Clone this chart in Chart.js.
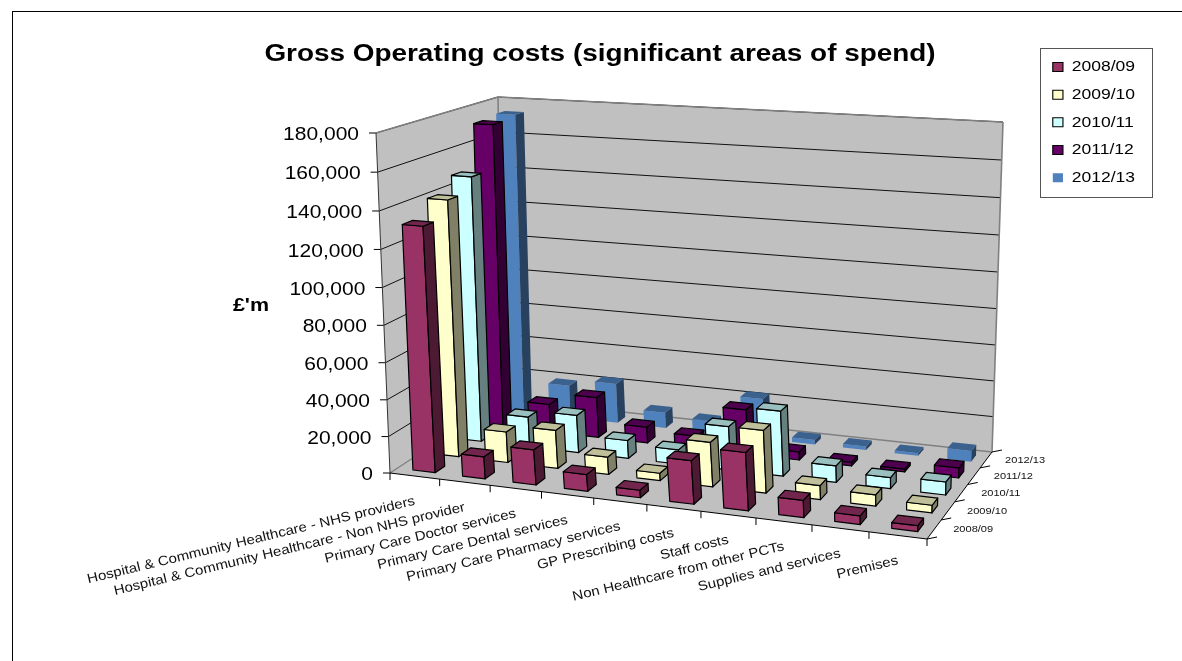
<!DOCTYPE html>
<html>
<head>
<meta charset="utf-8">
<title>Gross Operating costs</title>
<script src="https://cdn.jsdelivr.net/npm/chart.js@4/dist/chart.umd.min.js"></script>
<style>
  html, body { margin: 0; background: #fff; overflow: hidden; }
  #wrap { position: relative; width: 1182px; height: 661px; overflow: hidden; }
  #frame { position: absolute; left: 12px; top: 11px; width: 1170px; height: 660px; border-left: 1px solid #000; border-top: 1px solid #000; }
  canvas { position: absolute; left: 0; top: 0; }
</style>
</head>
<body>
<div id="wrap">
  <div id="frame"></div>
  <canvas id="costsChart" width="1200" height="661" style="width:1200px;height:661px"></canvas>
</div>
<script>
// Spending areas along the front of the chart
const categories = [
    'Hospital & Community Healthcare - NHS providers',
    'Hospital & Community Healthcare - Non NHS provider',
    'Primary Care Doctor services',
    'Primary Care Dental services',
    'Primary Care Pharmacy services',
    'GP Prescribing costs',
    'Staff costs',
    'Non Healthcare from other PCTs',
    'Supplies and services',
    'Premises'
];

// One list per year, front row first
const costs0809 = [132000, 12000, 19000, 9000, 4000, 23000, 30500, 9000, 4500, 3000];
const costs0910 = [140500, 17000, 21000, 9500, 4000, 24000, 33500, 7500, 6000, 4000];
const costs1011 = [148000, 17000, 21000, 10000, 8000, 24000, 35500, 9000, 6000, 7000];
const costs1112 = [172000, 16000, 23000, 9000, 7000, 25000, 4500, 2000, 1500, 5500];
const costs1213 = [173500, 19000, 23000, 9000, 7000, 23000, 2500, 2000, 1500, 6000];

const yearLabels = ['2008/09', '2009/10', '2010/11', '2011/12', '2012/13'];
const yearCosts = [costs0809, costs0910, costs1011, costs1112, costs1213];
const faceColours = ['#993366', '#FFFFCC', '#CCFFFF', '#660066', '#4F81BD'];
const edgeColours = ['#000000', '#000000', '#000000', '#000000', 'rgba(0,0,0,0)'];
const valueTicks = [0, 20000, 40000, 60000, 80000, 100000, 120000, 140000, 160000, 180000];

const FONT = '"Liberation Sans", Arial, sans-serif';
const TEXT_STRETCH = 1.13; // all lettering is drawn a bit wide

// Corners of the 3D box: floor and ceiling, each front-left, front-right, back-right, back-left
const floorQuad = [[390, 473], [927, 539], [992, 452], [503, 399]];
const ceilQuad = [[376, 133], [936, 172], [1003, 122], [498, 97]];
const BAR_SHIFT = 0.004;

// unit square -> quad perspective map
function makeHomography(q) {
    const [[x0, y0], [x1, y1], [x2, y2], [x3, y3]] = q;
    const sx = x0 - x1 + x2 - x3, sy = y0 - y1 + y2 - y3;
    const dx1 = x1 - x2, dx2 = x3 - x2, dy1 = y1 - y2, dy2 = y3 - y2;
    const den = dx1 * dy2 - dx2 * dy1;
    const g = (sx * dy2 - dx2 * sy) / den;
    const h = (dx1 * sy - sx * dy1) / den;
    const a = x1 - x0 + g * x1, b = x3 - x0 + h * x3;
    const d = y1 - y0 + g * y1, e = y3 - y0 + h * y3;
    return (u, v) => {
        const w = g * u + h * v + 1;
        return [(a * u + b * v + x0) / w, (d * u + e * v + y0) / w];
    };
}
const floorMap = makeHomography(floorQuad);
const ceilMap = makeHomography(ceilQuad);

// u across the categories, v into the depth, t up the value axis (all 0..1)
function project(u, v, t) {
    const p = floorMap(u, v), q = ceilMap(u, v);
    const s = 0.96 * t / (1 - 0.04 * t); // heights get a little longer towards the top
    return [p[0] + (q[0] - p[0]) * s, p[1] + (q[1] - p[1]) * s];
}

function poly(ctx, pts, fill, stroke, lw) {
    ctx.beginPath();
    pts.forEach((p, i) => i ? ctx.lineTo(p[0], p[1]) : ctx.moveTo(p[0], p[1]));
    ctx.closePath();
    if (fill) { ctx.fillStyle = fill; ctx.fill(); }
    if (stroke) { ctx.strokeStyle = stroke; ctx.lineWidth = lw || 1; ctx.stroke(); }
}

function line(ctx, a, b, colour, lw) {
    ctx.beginPath();
    ctx.moveTo(a[0], a[1]);
    ctx.lineTo(b[0], b[1]);
    ctx.strokeStyle = colour;
    ctx.lineWidth = lw || 1;
    ctx.stroke();
}

function shade(hex, k) {
    const n = parseInt(hex.slice(1), 16);
    return 'rgb(' + [(n >> 16) & 255, (n >> 8) & 255, n & 255].map(c => Math.round(c * k)).join(',') + ')';
}

function wideText(ctx, text, x, y, angle) {
    ctx.save();
    ctx.translate(x, y);
    if (angle) ctx.rotate(angle);
    ctx.scale(TEXT_STRETCH, 1);
    ctx.fillText(text, 0, 0);
    ctx.restore();
}

// widen a layout box (title, legend) about a fixed x
function widenBox(box, ctx, originX) {
    const draw = box.draw;
    box.draw = function (area) {
        ctx.save();
        ctx.translate(originX, 0);
        ctx.scale(TEXT_STRETCH, 1);
        ctx.translate(-originX, 0);
        draw.call(box, area);
        ctx.restore();
    };
}

// Bar controller that paints each bar as a box standing on the floor
class Bar3dController extends Chart.BarController {
    draw() {
        const meta = this._cachedMeta;
        const ctx = this.chart.ctx;
        const area = this.chart.chartArea;
        const row = this.index;
        const colour = this.getDataset().backgroundColor;
        const edge = this.getDataset().borderColor;
        const v0 = (row + 0.3) / yearLabels.length;
        const v1 = (row + 0.7) / yearLabels.length;
        ctx.save();
        ctx.lineJoin = 'round';
        meta.data.forEach(bar => {
            const u0 = (bar.x - bar.width / 2 - area.left) / area.width + BAR_SHIFT;
            const u1 = (bar.x + bar.width / 2 - area.left) / area.width + BAR_SHIFT;
            const t = (bar.base - bar.y) / area.height;
            poly(ctx, [project(u0, v0, 0), project(u1, v0, 0), project(u1, v0, t), project(u0, v0, t)], colour, edge, 1.2);
            poly(ctx, [project(u1, v0, 0), project(u1, v1, 0), project(u1, v1, t), project(u1, v0, t)], shade(colour, 0.5), edge, 1.2);
            poly(ctx, [project(u0, v0, t), project(u1, v0, t), project(u1, v1, t), project(u0, v1, t)], shade(colour, 0.75), edge, 1.2);
        });
        ctx.restore();
    }
}
Bar3dController.id = 'bar3d';
Bar3dController.defaults = Chart.BarController.defaults;
Bar3dController.overrides = Chart.BarController.overrides;
Chart.register(Bar3dController);

// Walls, floor, axes and their labels
const boxPlugin = {
    id: 'box',
    afterLayout(chart) {
        // title spans the whole canvas, legend sits in its own box at the top right
        chart.titleBlock.left = 0;
        chart.titleBlock.right = chart.width;
        const lg = chart.legend;
        const w = lg.width, h = lg.height;
        lg.left = 1039; lg.right = 1039 + w;
        lg.top = 47; lg.bottom = 47 + h;
        if (!chart.$widened) {
            widenBox(chart.titleBlock, chart.ctx, chart.width / 2);
            widenBox(lg, chart.ctx, lg.left);
            chart.$widened = true;
        }
    },
    beforeDatasetsDraw(chart) {
        const ctx = chart.ctx;
        const grey = '#C0C0C0', wallEdge = '#808080';
        const yScale = chart.scales.y, xScale = chart.scales.x;
        const area = chart.chartArea;
        const tOf = val => (area.bottom - yScale.getPixelForValue(val)) / area.height;
        ctx.save();

        poly(ctx, [project(0, 0, 0), project(0, 1, 0), project(0, 1, 1), project(0, 0, 1)], grey);
        poly(ctx, [project(0, 1, 0), project(1, 1, 0), project(1, 1, 1), project(0, 1, 1)], grey);
        poly(ctx, [project(0, 0, 0), project(1, 0, 0), project(1, 1, 0), project(0, 1, 0)], grey);

        // gridlines and value labels
        ctx.font = '18.6px ' + FONT;
        ctx.textAlign = 'right';
        ctx.textBaseline = 'middle';
        yScale.ticks.forEach(tick => {
            const t = tOf(tick.value);
            const a = project(0, 0, t), b = project(0, 1, t), c = project(1, 1, t);
            if (tick.value > 0) {
                line(ctx, a, b, '#111', 1);
                line(ctx, b, c, '#111', 1);
            }
            line(ctx, [a[0] - 7, a[1]], a, '#000', 1);
            ctx.fillStyle = '#000';
            wideText(ctx, tick.label, a[0] - 17, a[1] + 2);
        });

        // wall outlines
        line(ctx, project(0, 0, 1), project(0, 1, 1), wallEdge, 1.6);
        line(ctx, project(0, 1, 1), project(1, 1, 1), wallEdge, 1.6);
        line(ctx, project(1, 1, 1), project(1, 1, 0), wallEdge, 1.6);
        line(ctx, project(0, 1, 1), project(0, 1, 0), wallEdge, 1.6);
        line(ctx, project(0, 0, 0), project(0, 1, 0), wallEdge, 1.4);
        line(ctx, project(0, 1, 0), project(1, 1, 0), wallEdge, 1.4);
        line(ctx, project(0, 0, 0), project(0, 0, 1), '#333', 1);
        line(ctx, project(0, 0, 0), project(1, 0, 0), '#000', 1);
        line(ctx, project(1, 0, 0), project(1, 1, 0), '#000', 1);

        // category ticks
        for (let i = 0; i <= categories.length; i++) {
            const p = project(i / categories.length, 0, 0);
            line(ctx, p, [p[0], p[1] + 7], '#000', 1);
        }

        // category labels, angled and ending under the middle of each group
        ctx.font = '13.3px ' + FONT;
        ctx.fillStyle = '#111';
        categories.forEach((name, i) => {
            const u = (xScale.getPixelForValue(i) - area.left) / area.width;
            const p = project(u, 0, 0);
            wideText(ctx, name, p[0], p[1] + 25, -13.5 * Math.PI / 180);
        });

        // depth ticks and year labels
        ctx.font = '9.8px ' + FONT;
        for (let i = 0; i <= yearLabels.length; i++) {
            const p = project(1, i / yearLabels.length, 0);
            line(ctx, p, [p[0] + 10, p[1] - 2], '#000', 1);
        }
        yearLabels.forEach((name, i) => {
            const p = project(1, (i + 0.5) / yearLabels.length, 0);
            wideText(ctx, name, p[0] + 59, p[1]);
        });

        ctx.font = 'bold 19px ' + FONT;
        ctx.textAlign = 'center';
        ctx.fillStyle = '#000';
        wideText(ctx, "£'m", 251, 306);
        ctx.restore();
    },
    afterDraw(chart) {
        const ctx = chart.ctx;
        ctx.save();
        ctx.strokeStyle = '#555';
        ctx.lineWidth = 1;
        ctx.strokeRect(1040.5, 48.5, 112, 149);
        ctx.restore();
    }
};

const ctxCosts = document.getElementById('costsChart').getContext('2d');
const costsChart = new Chart(ctxCosts, {
    type: 'bar3d',
    data: {
        labels: categories,
        datasets: yearLabels.map((label, i) => ({
            label: label,
            data: yearCosts[i],
            backgroundColor: faceColours[i],
            borderColor: edgeColours[i],
            borderWidth: 1,
            clip: false
        }))
    },
    options: {
        responsive: false,
        animation: false,
        events: [],
        layout: { padding: { left: 376, bottom: 188, right: 48 } },
        datasets: { bar3d: { grouped: false, categoryPercentage: 1, barPercentage: 0.45 } },
        scales: {
            x: { display: false, grid: { display: false } },
            y: {
                display: false,
                min: 0,
                max: 180000,
                afterBuildTicks: scale => { scale.ticks = valueTicks.map(v => ({ value: v })); },
                ticks: { callback: v => v.toLocaleString('en-GB') }
            }
        },
        plugins: {
            title: {
                display: true,
                text: 'Gross Operating costs (significant areas of spend)',
                color: '#000',
                font: { family: FONT, size: 24.7, weight: 'bold' },
                padding: { top: 39, bottom: 64.4 }
            },
            legend: {
                position: 'right',
                align: 'start',
                labels: {
                    color: '#000',
                    font: { family: FONT, size: 15.5 },
                    boxWidth: 9,
                    boxHeight: 9,
                    padding: 12.2
                }
            },
            tooltip: { enabled: false }
        }
    },
    plugins: [boxPlugin]
});
</script>
</body>
</html>
